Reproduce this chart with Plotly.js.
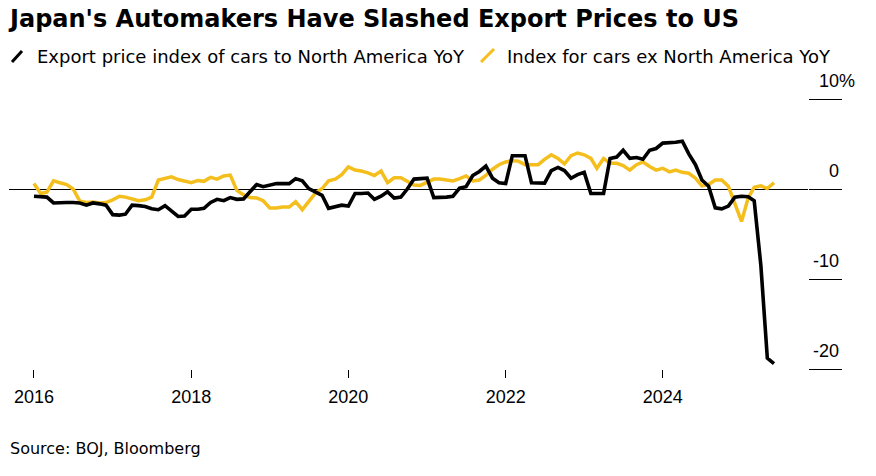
<!DOCTYPE html>
<html>
<head>
<meta charset="utf-8">
<script src="https://cdn.plot.ly/plotly-3.0.1.min.js"></script>
<style>
  html, body { margin: 0; padding: 0; background: #fff; }
  #chart { width: 876px; height: 476px; }
</style>
</head>
<body>
<div id="chart"></div>
<script>
// ---- Data (monthly YoY %, Jan 2016 – Jun 2025) ----
const startYear = 2016;
const northAmerica = [
  -0.8, -0.8, -0.9, -1.55, -1.5, -1.5, -1.5, -1.55, -1.8, -1.55, -1.65, -1.8,
  -2.85, -2.9, -2.8, -1.8, -1.85, -1.95, -2.2, -2.3, -1.85, -2.45, -3.05, -3.0,
  -2.25, -2.25, -2.15, -1.5, -1.15, -1.3, -0.95, -1.15, -1.1, -0.3, 0.5, 0.25,
  0.45, 0.6, 0.6, 0.6, 1.15, 0.9, 0.05, -0.35, -0.7, -2.15, -2.0, -1.8,
  -1.9, -0.5, -0.5, -0.45, -1.15, -0.8, -0.3, -1.0, -0.9, 0.0, 1.1, 1.1,
  1.2, -0.95, -0.95, -0.9, -0.8, 0.1, 0.25, 1.5, 1.95, 2.55, 1.2, 0.7,
  0.6, 3.7, 3.7, 3.7, 0.7, 0.65, 0.65, 2.05, 2.4, 2.05, 1.2, 1.6,
  1.85, -0.5, -0.5, -0.5, 3.4, 3.55, 4.3, 3.4, 3.5, 3.3, 4.3, 4.5,
  5.1, 5.1, 5.2, 5.3, 3.9, 2.7, 1.0, 0.3, -2.1, -2.2, -1.9, -0.9,
  -0.8, -0.85, -1.3, -8.5, -18.8, -19.4
];
const exNorthAmerica = [
  0.6, -0.5, -0.35, 0.9, 0.7, 0.5, 0.0, -1.35, -1.5, -1.45, -1.55, -1.5,
  -1.2, -0.8, -0.9, -1.1, -1.3, -1.2, -0.9, 1.0, 1.2, 1.35, 1.05, 0.9,
  0.7, 0.95, 0.85, 1.3, 1.1, 1.45, 1.55, -0.15, -0.65, -0.95, -1.0, -1.3,
  -2.1, -2.1, -2.0, -2.0, -1.4, -2.3, -1.4, -0.45, 0.05, 0.9, 1.1, 1.6,
  2.45, 2.1, 2.0, 1.8, 1.5, 2.0, 0.7, 1.25, 1.25, 0.8, 0.45, 0.4,
  0.7, 1.1, 1.1, 1.0, 0.9, 1.15, 1.45, 0.9, 1.0, 1.5, 2.2, 2.7,
  3.0, 3.15, 3.1, 2.7, 2.7, 2.7, 3.3, 3.8, 3.4, 2.8, 3.7, 4.0,
  3.8, 3.4, 2.3, 3.4, 2.85, 2.85, 2.6, 2.1, 2.7, 3.0, 2.5, 2.1,
  2.3, 1.9, 2.1, 1.85, 1.75, 1.2, 0.35, 0.5, 1.0, 1.0, 0.3, -1.7,
  -3.6, -1.0, 0.2, 0.35, 0.05, 0.7
];
const seriesNames = ["Export price index of cars to North America YoY", "Index for cars ex North America YoY"];
const xTickVals = ["2016-01-01", "2018-01-01", "2020-01-01", "2022-01-01", "2024-01-01"];
const xTickText = ["2016", "2018", "2020", "2022", "2024"];
const yTickVals = [10, 0, -10, -20];
const yTickText = ["10%", "0", "-10", "-20"];
const titleText = "Japan's Automakers Have Slashed Export Prices to US";
const sourceText = "Source: BOJ, Bloomberg";

// monthly dates
const months = [];
for (let k = 0; k < northAmerica.length; k++) {
  const y = startYear + Math.floor(k / 12), m = (k % 12) + 1;
  months.push(y + "-" + String(m).padStart(2, "0") + "-01");
}

// ---- Layout helpers (pixel -> paper) ----
const W = 876, H = 476;
const M = { l: 9, r: 68, t: 99, b: 107 };
const PW = W - M.l - M.r, PH = H - M.t - M.b;
const px = v => (v - M.l) / PW;
const py = v => (H - M.b - v) / PH;

const FONT = "DejaVu Sans, Verdana, sans-serif";
const TICKFONT = "Liberation Sans, Arial, Helvetica, sans-serif";
const BLACK = "#000000";
const YELLOW = "#F4BE1C";

const traces = [
  { x: months, y: exNorthAmerica, type: "scatter", mode: "lines", name: seriesNames[1],
    line: { color: YELLOW, width: 3.5 }, hoverinfo: "skip" },
  { x: months, y: northAmerica, type: "scatter", mode: "lines", name: seriesNames[0],
    line: { color: BLACK, width: 3.6 }, hoverinfo: "skip" }
];

const annotations = [];
// y tick labels (above tick segments, right aligned)
yTickVals.forEach((v, i) => {
  const t = yTickText[i];
  annotations.push({
    x: px(841), xref: "paper", y: v, yref: "y",
    text: t, showarrow: false, xanchor: "right", yanchor: "middle",
    yshift: 18.3, xshift: t.endsWith("%") ? 16 : 0,
    font: { family: TICKFONT, size: 18, color: "#000" }
  });
});
// legend texts
annotations.push({ x: px(35), xref: "paper", y: py(56.4), yref: "paper", text: seriesNames[0],
  showarrow: false, xanchor: "left", yanchor: "middle", font: { family: FONT, size: 18, color: "#000" } });
annotations.push({ x: px(505), xref: "paper", y: py(56.4), yref: "paper", text: seriesNames[1],
  showarrow: false, xanchor: "left", yanchor: "middle", font: { family: FONT, size: 18, color: "#000" } });
// source
annotations.push({ x: px(8), xref: "paper", y: py(448.7), yref: "paper", text: sourceText,
  showarrow: false, xanchor: "left", yanchor: "middle", font: { family: FONT, size: 16, color: "#000" } });

const shapes = [
  { type: "line", xref: "paper", yref: "paper", x0: px(12), y0: py(62), x1: px(22), y1: py(51),
    line: { color: BLACK, width: 3 } },
  { type: "line", xref: "paper", yref: "paper", x0: px(481), y0: py(62), x1: px(494), y1: py(49),
    line: { color: YELLOW, width: 3 } }
];

const layout = {
  width: W, height: H,
  margin: M,
  paper_bgcolor: "#fff", plot_bgcolor: "#fff",
  showlegend: false,
  title: {
    text: "<b>" + titleText + "</b>",
    font: { family: FONT, size: 24, color: "#000" },
    x: 10 / W, xref: "container", xanchor: "left",
    y: 1 - 18.9 / H, yref: "container", yanchor: "middle"
  },
  xaxis: {
    type: "date",
    range: ["2015-09-07", "2025-11-06"],
    tickvals: xTickVals, ticktext: xTickText,
    ticks: "outside", ticklen: 8, tickwidth: 1, tickcolor: "#000",
    ticklabelstandoff: 3,
    showgrid: false, zeroline: false, showline: false,
    tickfont: { family: TICKFONT, size: 18, color: "#000" },
    fixedrange: true
  },
  yaxis: {
    range: [-20, 10], side: "right",
    tickvals: yTickVals, showticklabels: false,
    ticks: "outside", ticklen: 33, tickwidth: 1, tickcolor: "#000",
    showgrid: false, showline: false,
    zeroline: true, zerolinecolor: "#000", zerolinewidth: 1,
    fixedrange: true
  },
  annotations: annotations,
  shapes: shapes
};

Plotly.newPlot("chart", traces, layout, { staticPlot: true, displayModeBar: false });
</script>
</body>
</html>
